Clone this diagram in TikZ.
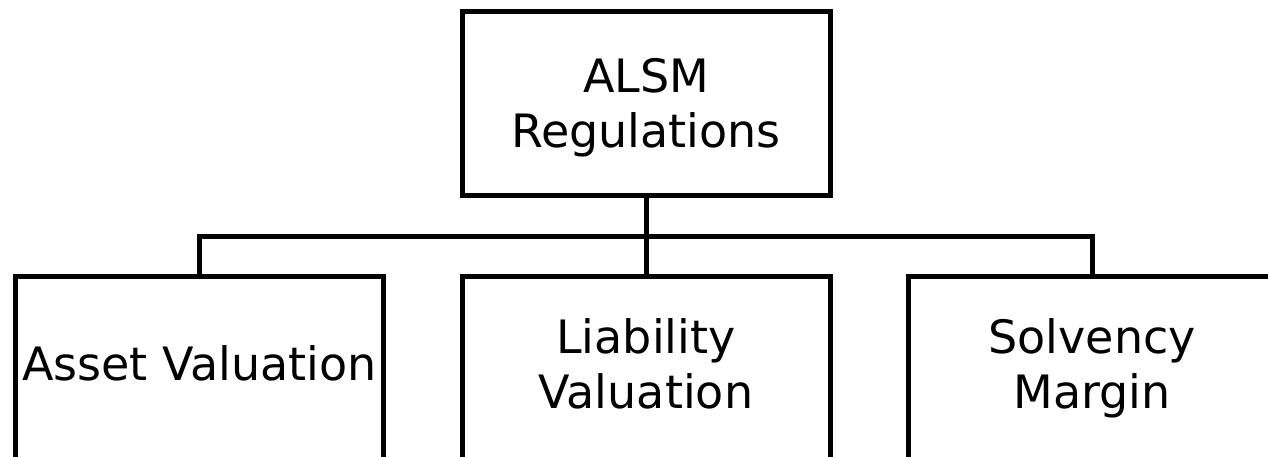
\documentclass[tikz,border=0pt]{standalone}
\usepackage{fontspec}
\setmainfont{DejaVu Sans}
\usepackage{tikz}
\usetikzlibrary{positioning, calc}

\begin{document}
\begin{tikzpicture}[
  x=1pt, y=-1pt,
  box/.style={draw, line width=5pt, minimum width=368pt, inner sep=0pt},
  txt/.style={font=\fontsize{46}{55}\selectfont, align=center, inner sep=0pt, anchor=base},
  conn/.style={line width=5pt}
]
  % ----- Bounding box -----
  \useasboundingbox (0,0) rectangle (1268,457);
  \clip (0,0) rectangle (1268,457);

  % ----- Top box -----
  \node[box, minimum height=184pt] (alsm) at (646,104) {};
  \node[txt] (alsmtxt) at (646,148) {ALSM\\Regulations};

  % ----- Bottom boxes (cut at the page edge) -----
  \node[box, minimum height=260pt, anchor=north] (asset) at (199.5,274) {};
  \node[box, minimum height=260pt, anchor=north] (liab)  at (646,274) {};
  \node[box, minimum height=260pt, anchor=north] (solv)  at (1092,274) {};

  \node[txt] (assettxt) at (199.5,380) {Asset Valuation};
  \node[txt] (liabtxt)  at (646,408) {Liability\\Valuation};
  \node[txt] (solvtxt)  at (1092,408) {Solvency\\Margin};

  % ----- Connectors -----
  \coordinate (bus) at (646,236);
  \draw[conn] (alsm.south) -- (bus);
  \draw[conn] (asset.north) |- (bus) -| (solv.north);
  \draw[conn] (bus) -- (liab.north);
\end{tikzpicture}
\end{document}
